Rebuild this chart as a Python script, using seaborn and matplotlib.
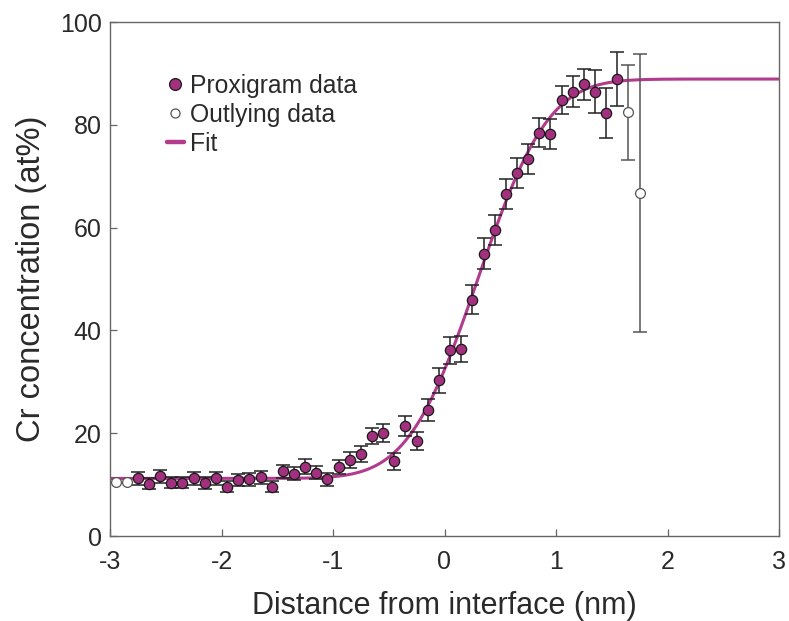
import math
import numpy as np
import pandas as pd
import matplotlib
matplotlib.use("Agg")
import matplotlib.pyplot as plt
import seaborn as sns
from matplotlib.lines import Line2D

# Proxigram concentration profile (Cr at%) across the interface
distance = [-2.75, -2.65, -2.55, -2.45, -2.35, -2.25, -2.15, -2.05, -1.95, -1.85,
            -1.75, -1.65, -1.55, -1.45, -1.35, -1.25, -1.15, -1.05, -0.95, -0.85,
            -0.75, -0.65, -0.55, -0.45, -0.35, -0.25, -0.15, -0.05, 0.05, 0.15,
            0.25, 0.35, 0.45, 0.55, 0.65, 0.75, 0.85, 0.95, 1.05, 1.15,
            1.25, 1.35, 1.45, 1.55]
cr_conc = [11.2, 10.2, 11.6, 10.4, 10.4, 11.2, 10.3, 11.2, 9.6, 10.9,
           11.0, 11.4, 9.6, 12.6, 12.1, 13.5, 12.3, 11.0, 13.4, 14.8,
           15.9, 19.5, 20.0, 14.5, 21.4, 18.5, 24.5, 30.3, 36.1, 36.4,
           46.0, 54.9, 59.5, 66.5, 70.7, 73.3, 78.5, 78.2, 84.8, 86.4,
           87.9, 86.4, 82.3, 88.9]
cr_err = [1.2, 1.1, 1.3, 1.1, 1.1, 1.2, 1.1, 1.2, 1.1, 1.2,
          1.2, 1.2, 1.1, 1.3, 1.3, 1.4, 1.3, 1.3, 1.35, 1.5,
          1.6, 1.6, 1.75, 1.65, 2.0, 1.8, 2.1, 2.4, 2.6, 2.6,
          2.8, 3.0, 2.9, 2.9, 2.9, 2.9, 2.85, 3.0, 2.7, 3.0,
          3.0, 4.2, 4.8, 5.2]

# Points excluded from the fit
out_distance = [-2.95, -2.85, 1.65, 1.75]
out_conc = [10.6, 10.6, 82.4, 66.7]
out_err = [0.0, 0.0, 9.2, 27.0]

# Error-function fit parameters: C = c_low + (c_high - c_low)/2 * (1 + erf((x - x0)/width))
fit_c_low = 11.2
fit_c_high = 88.9
fit_x0 = 0.30
fit_width = 0.70

x_ticks = [-3, -2, -1, 0, 1, 2, 3]
x_tick_labels = ["-3", "-2", "-1", "0", "1", "2", "3"]
y_ticks = [0, 20, 40, 60, 80, 100]
y_tick_labels = ["0", "20", "40", "60", "80", "100"]

main_df = pd.DataFrame({"Distance": distance, "Cr": cr_conc, "err": cr_err})
out_df = pd.DataFrame({"Distance": out_distance, "Cr": out_conc, "err": out_err})
fit_x = np.linspace(-3, 3, 601)
fit_y = [fit_c_low + (fit_c_high - fit_c_low) / 2 * (1 + math.erf((v - fit_x0) / fit_width))
         for v in fit_x]
fit_df = pd.DataFrame({"Distance": fit_x, "Cr": fit_y})

sns.set_style("white")
plt.rcParams["font.family"] = ["Liberation Sans", "DejaVu Sans"]

purple = "#a3307f"
fit_color = "#b23b8e"
spine_grey = "#666666"
text_color = "#2a2a2a"

fig = plt.figure(figsize=(7.89, 6.21), dpi=100)
ax = fig.add_axes([110 / 789, 1 - 536 / 621, 669 / 789, 514 / 621])

# Fit curve
sns.lineplot(data=fit_df, x="Distance", y="Cr", ax=ax, color=fit_color,
             linewidth=2.2, zorder=2, legend=False)

# Error bars
ax.errorbar(main_df["Distance"], main_df["Cr"], yerr=main_df["err"], fmt="none",
            ecolor="#222222", elinewidth=1.1, capsize=5, capthick=1.1, zorder=3)
has_err = out_df["err"] > 0
ax.errorbar(out_df.loc[has_err, "Distance"], out_df.loc[has_err, "Cr"],
            yerr=out_df.loc[has_err, "err"], fmt="none", ecolor="#555555",
            elinewidth=1.1, capsize=5, capthick=1.1, zorder=3)

# Data markers
sns.scatterplot(data=main_df, x="Distance", y="Cr", ax=ax, color=purple,
                edgecolor="#1a1a1a", linewidth=0.9, s=55, zorder=4, legend=False)
sns.scatterplot(data=out_df, x="Distance", y="Cr", ax=ax, color="white",
                edgecolor="#555555", linewidth=0.9, s=50, zorder=4, legend=False)

ax.set_xlim(-3, 3)
ax.set_ylim(0, 100)
ax.set_xticks(x_ticks)
ax.set_xticklabels(x_tick_labels)
ax.set_yticks(y_ticks)
ax.set_yticklabels(y_tick_labels)
ax.set_xlabel("Distance from interface (nm)", fontsize=22, color=text_color, labelpad=12)
ax.set_ylabel("Cr concentration (at%)", fontsize=23.5, color=text_color, labelpad=9)
ax.tick_params(axis="both", which="major", direction="in", length=5, width=0.9,
               color=spine_grey, labelsize=18, labelcolor=text_color,
               bottom=True, left=True, top=False, right=False)
ax.tick_params(axis="x", pad=10)
ax.tick_params(axis="y", pad=6)
for sp in ax.spines.values():
    sp.set_color(spine_grey)
    sp.set_linewidth(1.0)
    sp.set_visible(True)

handles = [
    Line2D([], [], linestyle="none", marker="o", markersize=8.5, markerfacecolor=purple,
           markeredgecolor="#1a1a1a", markeredgewidth=0.9),
    Line2D([], [], linestyle="none", marker="o", markersize=6.5, markerfacecolor="white",
           markeredgecolor="#555555", markeredgewidth=0.9),
    Line2D([], [], color=fit_color, linewidth=3.2),
]
ax.legend(handles, ["Proxigram data", "Outlying data", "Fit"], loc="upper left",
          bbox_to_anchor=(0.07, 0.918), frameon=False, fontsize=17.8,
          handlelength=0.7, handletextpad=0.25, labelspacing=0.2, borderaxespad=0,
          labelcolor=text_color)

fig.savefig("out.png", dpi=100)
